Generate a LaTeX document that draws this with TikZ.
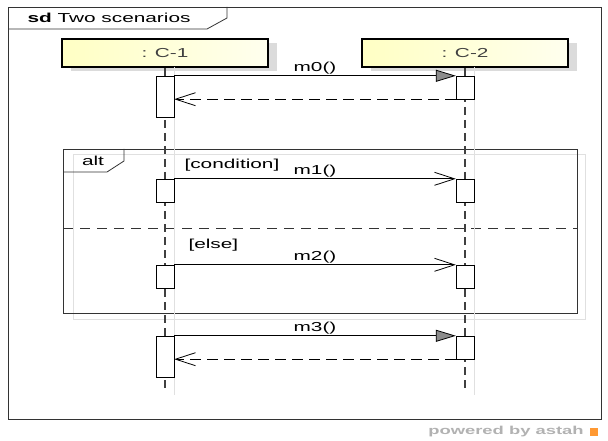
\documentclass[tikz,border=0pt]{standalone}
\usepackage{fontspec}
\setmainfont{Liberation Sans}[FakeStretch=1.6]
\usetikzlibrary{positioning,arrows.meta,shadows}
\definecolor{headleft}{RGB}{255,255,196}
\definecolor{headright}{RGB}{255,255,238}

\begin{document}
\begin{tikzpicture}[x=1pt, y=-1pt,
  font=\fontsize{13}{15}\selectfont,
  head/.style={draw, line width=2pt, left color=headleft, right color=headright,
    minimum width=206pt, minimum height=28pt, text=black!75,
    drop shadow={shadow xshift=9pt, shadow yshift=-4pt, fill=black!14, opacity=1}},
  life/.style={draw=black!75, line width=2pt, dash pattern=on 8pt off 5pt},
  ghost/.style={draw=black!12, line width=1pt},
  act/.style={draw, fill=white, minimum width=18pt, inner sep=0pt},
  short/.style={act, minimum height=23pt},
  long/.style={act, minimum height=41pt},
  call/.style={-{Straight Barb[length=20pt, width=13pt]}, line width=0.8pt},
  sync/.style={-{Triangle[length=20pt, width=12pt, fill=black!45]}, line width=0.8pt},
  reply/.style={call, dash pattern=on 11pt off 6pt},
  lbl/.style={above, inner sep=1.5pt},
  frm/.style={draw=black!80, line width=0.8pt}
]
\fill[white] (0,0) rectangle (608,441);
\useasboundingbox (0,0) rectangle (608,441);

% Outer frame
\draw[frm] (8,7) rectangle (601,419);
\draw[frm] (8,29) -- (207,29) -- (227,18) -- (227,7);
\node[anchor=west] (sd) at (24,18) {\textbf{sd} Two scenarios};

% Combined fragment
\draw[ghost] (73,155) rectangle (585,319);
\draw[frm] (63,149) rectangle (577,313);
\draw[frm] (63,172) -- (107,172) -- (124,161) -- (124,149);
\node (alt) at (93,161) {alt};
\draw[frm, dash pattern=on 10pt off 7pt] (63,228) -- (577,228);
\node[anchor=west] (cond) at (181,165) {[condition]};
\node[anchor=west] (else) at (185,245) {[else]};

% Lifelines
\node[head] (c1) at (165,53) {: C-1};
\node[head] (c2) at (465,53) {: C-2};
\coordinate (c1end) at (165,392);
\coordinate (c2end) at (465,392);
\draw[ghost] (174,67) -- (174,395);
\draw[ghost] (474,67) -- (474,395);
\draw[life] (c1) -- (c1end);
\draw[life] (c2) -- (c2end);

% m0 with reply
\node[long] (a0) at (165,96.5) {};
\node[short] (b0) at (465,87.5) {};
\draw[sync] (a0.north east) -- node[lbl] (m0) {m0()} (b0.north west);
\draw[reply] (b0.south west) -- (a0.east |- b0.south west);

% m1
\node[short] (a1) at (165,190.5) {};
\node[short] (b1) at (465,190.5) {};
\draw[call] (a1.north east) -- node[lbl] (m1) {m1()} (b1.north west);

% m2
\node[short] (a2) at (165,276.5) {};
\node[short] (b2) at (465,276.5) {};
\draw[call] (a2.north east) -- node[lbl] (m2) {m2()} (b2.north west);

% m3 with reply
\node[long] (a3) at (165,356.5) {};
\node[short] (b3) at (465,347.5) {};
\draw[sync] (a3.north east) -- node[lbl] (m3) {m3()} (b3.north west);
\draw[reply] (b3.south west) -- (a3.east |- b3.south west);

% Watermark
\node[text=black!30, font=\fontsize{11.5}{13}\selectfont\bfseries] (brand) at (506,432) {powered by astah};
\node[fill=orange!80, minimum size=8pt, inner sep=0pt, right=3pt of brand] (logo) {};

\end{tikzpicture}
\end{document}
